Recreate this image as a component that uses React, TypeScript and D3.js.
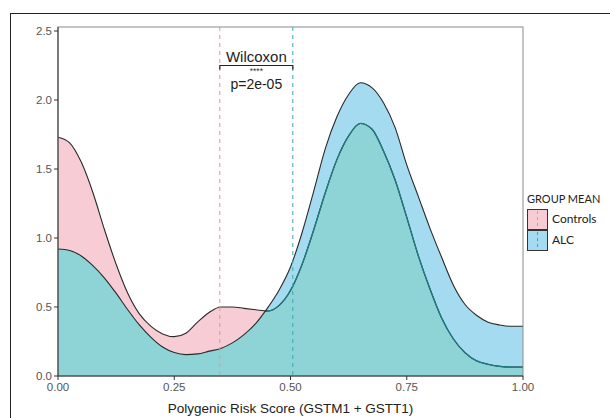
import * as d3 from 'd3';

const scoreGrid = [
  0, 0.025, 0.05, 0.075, 0.1, 0.125, 0.15, 0.175, 0.2, 0.225,
  0.25, 0.275, 0.3, 0.325, 0.35, 0.375, 0.4, 0.425, 0.45, 0.475,
  0.5, 0.525, 0.55, 0.575, 0.6, 0.625, 0.65, 0.675, 0.7, 0.725,
  0.75, 0.775, 0.8, 0.825, 0.85, 0.875, 0.9, 0.925, 0.95, 0.975, 1,
];
const controlsDensity = [
  1.73, 1.69, 1.55, 1.33, 1.06, 0.81, 0.6, 0.45, 0.36, 0.305,
  0.285, 0.31, 0.39, 0.46, 0.5, 0.5, 0.49, 0.48, 0.47, 0.51,
  0.62, 0.81, 1.06, 1.33, 1.57, 1.74, 1.83, 1.79, 1.63, 1.42,
  1.15, 0.87, 0.63, 0.42, 0.27, 0.17, 0.11, 0.085, 0.07, 0.065, 0.065,
];
const alcDensity = [
  0.92, 0.91, 0.87, 0.8, 0.71, 0.6, 0.48, 0.37, 0.28, 0.21,
  0.17, 0.155, 0.16, 0.18, 0.2, 0.24, 0.3, 0.38, 0.49, 0.62,
  0.79, 1.04, 1.34, 1.65, 1.88, 2.04, 2.125, 2.09, 1.98, 1.8,
  1.53, 1.3, 1.07, 0.86, 0.66, 0.52, 0.44, 0.39, 0.37, 0.36, 0.36,
];

const groupNames = ['Controls', 'ALC'];
const groupMeans = [0.348, 0.505];
const xTicks = [0, 0.25, 0.5, 0.75, 1];
const yTicks = [0, 0.5, 1, 1.5, 2, 2.5];
const testName = 'Wilcoxon';
const pLabel = 'p=2e-05';
const stars = '****';
const bracketLevel = 2.25;

const W = 610;
const H = 418;
const PANEL = { left: 58, right: 523, top: 27, bottom: 376 };
const FILL = { controls: '#f8ccd5', alc: '#a5dbf0', both: '#8ed3d6' };
const MEAN_LINE = ['#cf9d9f', '#3aaab1'];
const KEY_FILL = [FILL.controls, FILL.alc];
const FONT = '"Liberation Sans", Arial, sans-serif';

export default function App() {
  const x = d3.scaleLinear().domain([0, 1]).range([PANEL.left, PANEL.right]);
  const y = d3.scaleLinear().domain([0, 2.529]).range([PANEL.bottom, PANEL.top]);

  const pts = (vals: number[]) => scoreGrid.map((s, i) => [s, vals[i]] as [number, number]);
  const area = d3
    .area<[number, number]>()
    .x((d) => x(d[0]))
    .y0(y(0))
    .y1((d) => y(d[1]))
    .curve(d3.curveMonotoneX);
  const line = d3
    .line<[number, number]>()
    .x((d) => x(d[0]))
    .y((d) => y(d[1]))
    .curve(d3.curveMonotoneX);

  const controlsArea = area(pts(controlsDensity)) || '';
  const alcArea = area(pts(alcDensity)) || '';
  const controlsLine = line(pts(controlsDensity)) || '';
  const alcLine = line(pts(alcDensity)) || '';

  const bx0 = x(groupMeans[0]);
  const bx1 = x(groupMeans[1]);
  const by = y(bracketLevel);
  const mid = (bx0 + bx1) / 2;

  return (
    <svg
      width={W}
      height={H}
      style={{ position: 'absolute', left: 0, top: 0, background: '#fff' }}
      fontFamily={FONT}
    >
      <defs>
        <clipPath id="panel">
          <rect x={PANEL.left} y={PANEL.top} width={PANEL.right - PANEL.left} height={PANEL.bottom - PANEL.top} />
        </clipPath>
        <clipPath id="alc-clip">
          <path d={alcArea} />
        </clipPath>
      </defs>

      {/* outer frame, cut by the picture edges */}
      <rect x={10.5} y={13.5} width={700} height={500} fill="none" stroke="#222" />

      <g clipPath="url(#panel)">
        <path d={controlsArea} fill={FILL.controls} />
        <path d={alcArea} fill={FILL.alc} />
        <path d={controlsArea} fill={FILL.both} clipPath="url(#alc-clip)" />
        <path d={controlsLine} fill="none" stroke="#2a2a2a" strokeWidth={1.1} />
        <g clipPath="url(#alc-clip)">
          <path d={controlsLine} fill="none" stroke="#1d7c82" strokeWidth={1.3} />
        </g>
        <path d={alcLine} fill="none" stroke="#2a2a2a" strokeWidth={1.1} />
        {groupMeans.map((m, i) => (
          <line
            key={groupNames[i]}
            x1={x(m)}
            x2={x(m)}
            y1={PANEL.top}
            y2={PANEL.bottom}
            stroke={MEAN_LINE[i]}
            strokeDasharray="4,4"
          />
        ))}
      </g>

      {/* panel border */}
      <rect
        x={PANEL.left}
        y={PANEL.top}
        width={PANEL.right - PANEL.left}
        height={PANEL.bottom - PANEL.top}
        fill="none"
        stroke="#8a8a8a"
      />
      <line x1={PANEL.left} x2={PANEL.left} y1={PANEL.top} y2={PANEL.bottom} stroke="#333" />
      <line x1={PANEL.left} x2={PANEL.right} y1={PANEL.bottom} y2={PANEL.bottom} stroke="#333" />

      {/* y axis */}
      {yTicks.map((t) => (
        <g key={`y${t}`}>
          <line x1={PANEL.left - 4} x2={PANEL.left} y1={y(t)} y2={y(t)} stroke="#333" />
          <text x={PANEL.left - 6} y={y(t)} dy="0.35em" textAnchor="end" fontSize={11.5} fill="#555">
            {t.toFixed(1)}
          </text>
        </g>
      ))}

      {/* x axis */}
      {xTicks.map((t) => (
        <g key={`x${t}`}>
          <line x1={x(t)} x2={x(t)} y1={PANEL.bottom} y2={PANEL.bottom + 4} stroke="#333" />
          <text x={x(t)} y={PANEL.bottom + 15} textAnchor="middle" fontSize={11.5} fill="#555">
            {t.toFixed(2)}
          </text>
        </g>
      ))}
      <text x={(PANEL.left + PANEL.right) / 2} y={413} textAnchor="middle" fontSize={13.5} fill="#222">
        Polygenic Risk Score (GSTM1 + GSTT1)
      </text>

      {/* test annotation */}
      <text x={mid} y={by - 4} textAnchor="middle" fontSize={15} fill="#222">
        {testName}
      </text>
      <path
        d={`M${bx0},${by + 4}V${by}H${bx1}V${by + 4}`}
        fill="none"
        stroke="#222"
        strokeWidth={1.2}
      />
      <text x={mid} y={by + 8} textAnchor="middle" fontSize={8.5} fill="#333">
        {stars}
      </text>
      <text x={mid} y={by + 23} textAnchor="middle" fontSize={14} fill="#222">
        {pLabel}
      </text>

      {/* legend */}
      <text x={527} y={203} fontSize={11} fill="#222" fontFamily="Lato, sans-serif">
        GROUP MEAN
      </text>
      {groupNames.map((g, i) => {
        const ky = 209 + i * 21;
        return (
          <g key={g}>
            <rect x={527.5} y={ky + 0.5} width={20} height={20} fill={KEY_FILL[i]} stroke="#333" />
            <line x1={537.5} x2={537.5} y1={ky + 2} y2={ky + 19} stroke={MEAN_LINE[i]} strokeDasharray="3,3" />
            <text x={552} y={ky + 10} dy="0.35em" fontSize={12} fill="#222" fontFamily="Lato, sans-serif">
              {g}
            </text>
          </g>
        );
      })}
    </svg>
  );
}
